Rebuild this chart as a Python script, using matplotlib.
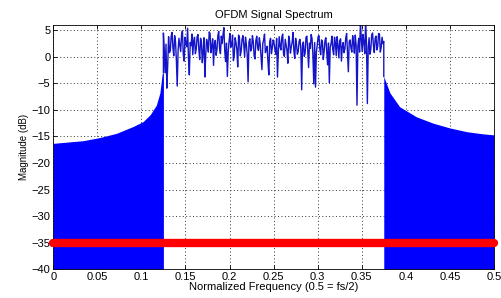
import matplotlib.pyplot as plt
import numpy as np

plt.rcParams['font.family'] = ['Liberation Sans', 'DejaVu Sans']
plt.rcParams['font.size'] = 8

# out-of-band envelope, left side (normalized freq, dB)
left_f = [0.0, 0.034, 0.053, 0.072, 0.091, 0.102, 0.110, 0.117, 0.121, 0.1236, 0.125]
left_db = [-16.3, -15.8, -15.2, -14.4, -13.1, -12.2, -10.9, -9.1, -6.8, -3.2, -3.0]

# out-of-band envelope, right side
right_f = [0.375, 0.382, 0.393, 0.412, 0.431, 0.45, 0.469, 0.487, 0.5]
right_db = [-3.7, -6.8, -9.4, -11.3, -12.5, -13.4, -14.1, -14.5, -14.7]

# in-band spectrum, 0.125 .. 0.375
inband_db = [
    4.5, 1.0, -3.0, 2.4, -5.9, -1.5, 3.8, 0.8, 1.2, 3.9, 4.6, 1.7, 0.2, 4.0, 2.9, -0.6,
    -5.5, 1.2, 3.5, 2.2, 1.0, 4.1, 4.9, 0.5, -0.8, 3.7, 2.6, 1.9, 5.4, -0.2, -3.4, 2.7,
    2.1, 4.3, 0.4, 2.9, 3.7, 0.6, 1.5, 3.8, 4.2, 1.4, -0.5, 3.5, 2.8, -1.1, 1.0, 3.6,
    -3.8, 0.5, 3.3, 2.4, 0.9, 4.7, 4.4, 0.8, 2.0, 3.4, -1.6, 2.5, 3.1, 0.3, 1.4, 4.0,
    4.8, 1.6, 0.6, 3.9, 2.5, 4.2, 5.5, 1.0, -0.9, 2.6, -3.7, 0.9, 3.0, 4.4, 1.8, 2.1,
    4.1, -0.7, 0.3, 3.6, 2.7, 1.4, -1.9, 4.1, 3.6, 0.2, 1.1, 3.3, 4.0, 2.3, 0.0, 3.7,
    2.3, 0.4, -4.7, 2.8, 3.4, 1.1, 1.6, 4.0, 2.9, 0.2, -0.4, 3.1, 3.9, 1.8, 1.2, 3.6,
    2.4, 0.0, -2.4, 2.5, 3.2, 4.3, 0.8, 1.3, 2.0, -1.0, -3.4, 2.9, 3.5, 0.6, 1.7, 3.2,
    2.6, 1.4, 0.5, 3.5, -3.8, 0.9, 3.8, 2.0, 1.3, 3.7, 4.3, 0.6, 0.1, 3.3, 2.2, 1.2,
    -1.2, 3.9, 3.0, 0.7, 1.9, 2.8, 4.6, 1.1, -0.3, 3.5, 2.4, 0.5, 1.0, 2.9, 3.3, 1.6,
    -6.2, 2.3, 2.8, 0.1, 0.7, 3.7, 3.9, 1.2, -2.0, 2.6, 1.6, 4.2, 3.4, 0.3, -5.1, 2.7,
    -5.7, 0.9, 2.2, 3.8, 4.0, 1.5, 0.4, 3.2, 2.9, -0.5, 1.1, 3.1, 3.6, 0.8, -1.5, 2.6,
    -4.9, 1.8, 2.5, 3.9, 1.3, 0.4, 3.7, 2.6, 0.2, 3.8, 2.1, -0.2, 3.0, 3.4, -0.8, 1.9,
    2.7, 0.8, 1.5, 3.6, 4.4, 0.9, -2.8, 2.9, 3.2, 1.7, 0.9, 4.0, 2.6, 0.7, 4.1, 2.2,
    -9.1, 2.0, 3.5, 0.9, 6.5, 3.3, 1.0, 4.2, 2.8, 0.6, 6.8, 2.4, -8.8, 1.7, 3.6, 0.5,
    1.4, 4.1, 4.5, 2.2, 0.8, 3.5, 3.9, 1.3, 2.0, 4.4, 4.3, 0.9, 1.8, 3.7, 2.5, 2.9,
]
inband_f = np.linspace(0.125, 0.375, len(inband_db))

# red threshold line
thr_f = [0.0, 0.5]
thr_db = [-35, -35]

xticks = [0, 0.05, 0.1, 0.15, 0.2, 0.25, 0.3, 0.35, 0.4, 0.45, 0.5]
xticklabels = ['0', '0.05', '0.1', '0.15', '0.2', '0.25', '0.3', '0.35', '0.4', '0.45', '0.5']
yticks = [-40, -35, -30, -25, -20, -15, -10, -5, 0, 5]

fig = plt.figure(figsize=(5.02, 2.98), dpi=100)
ax = fig.add_axes([0.106, 0.097, 0.878, 0.819])

ax.fill_between(left_f, left_db, -40, color='#0000ff', lw=0)
ax.fill_between(right_f, right_db, -40, color='#0000ff', lw=0)
# in-band trace, joined to the edges of the skirts
line_f = np.r_[left_f[-1], inband_f, right_f[0]]
line_db = np.r_[left_db[-1], inband_db, right_db[0]]
ax.plot(line_f, line_db, color='#1414c8', lw=1.0)
ax.plot(thr_f, thr_db, color='#ff0000', lw=6, solid_capstyle='round', clip_on=False, zorder=5)

ax.set_xlim(0, 0.5)
ax.set_ylim(-40, 6)
ax.set_xticks(xticks)
ax.set_xticklabels(xticklabels)
ax.set_yticks(yticks)
ax.tick_params(direction='in', top=True, right=True, length=3, width=0.6, pad=2)
ax.grid(True, linestyle=(0, (1, 2.5)), color='#333333', linewidth=0.7)
ax.set_axisbelow(True)
for s in ax.spines.values():
    s.set_linewidth(0.6)

ax.set_title('OFDM Signal Spectrum', fontsize=8, pad=5)
ax.set_xlabel('Normalized Frequency (0.5 = fs/2)', fontsize=8, labelpad=0)
ax.set_ylabel('Magnitude (dB)', fontsize=7, labelpad=2)

fig.savefig('out.png', dpi=100)
